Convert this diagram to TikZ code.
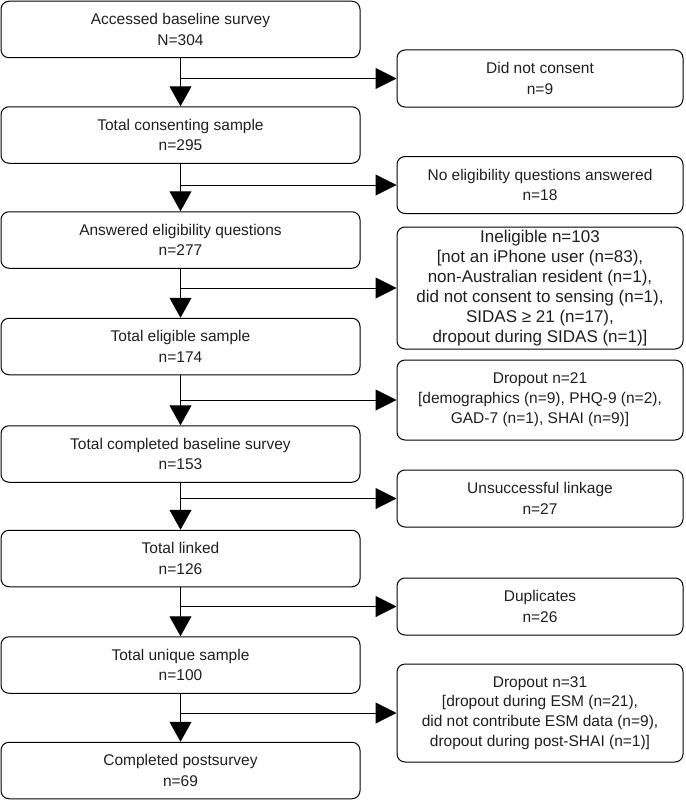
\documentclass[tikz,border=0pt]{standalone}
\usepackage{fontspec}
\setmainfont{Liberation Sans}
\usetikzlibrary{arrows.meta}
\begin{document}
\begin{tikzpicture}[x=1pt,y=-1pt,
  box/.style={draw=black, line width=1pt, rounded corners=8pt, align=center,
    inner sep=0pt, font=\fontsize{15.5}{20.5}\selectfont, text=black!88},
  lbox/.style={box, minimum width=359pt, minimum height=56.5pt},
  rbox/.style={box, minimum width=286pt},
  flow/.style={line width=1pt, -{Triangle[width=22pt,length=20pt]}},
  branch/.style={line width=1pt, -{Triangle[width=21pt,length=21pt]}}]
\useasboundingbox (0,0) rectangle (685,800);

% main column
\node[lbox] (b1) at (180.5,29.5) {Accessed baseline survey\\N=304};
\node[lbox] (b2) at (180.5,135) {Total consenting sample\\n=295};
\node[lbox] (b3) at (180.5,240) {Answered eligibility questions\\n=277};
\node[lbox] (b4) at (180.5,346.5) {Total eligible sample\\n=174};
\node[lbox] (b5) at (180.5,454) {Total completed baseline survey\\n=153};
\node[lbox] (b6) at (180.5,558.5) {Total linked\\n=126};
\node[lbox] (b7) at (180.5,665) {Total unique sample\\n=100};
\node[lbox] (b8) at (180.5,770.5) {Completed postsurvey\\n=69};

% exclusions
\node[rbox, minimum height=57pt] (r1) at (540,78.5) {Did not consent\\n=9};
\node[rbox, minimum height=57pt] (r2) at (540,185) {No eligibility questions answered\\n=18};
\node[rbox, minimum height=122pt, font=\fontsize{17}{20}\selectfont] (r3) at (540,288)
  {Ineligible n=103\\{[}not an iPhone user (n=83),\\non-Australian resident (n=1),\\did not consent to sensing (n=1),\\SIDAS ≥ 21 (n=17),\\dropout during SIDAS (n=1){]}};
\node[rbox, minimum height=80pt, font=\fontsize{15.5}{20}\selectfont] (r4) at (540,400)
  {Dropout n=21\\{[}demographics (n=9), PHQ-9 (n=2),\\GAD-7 (n=1), SHAI (n=9){]}};
\node[rbox, minimum height=57pt] (r5) at (540,498.5) {Unsuccessful linkage\\n=27};
\node[rbox, minimum height=57pt] (r6) at (540,606.5) {Duplicates\\n=26};
\node[rbox, minimum height=98pt, font=\fontsize{15.5}{19.7}\selectfont] (r7) at (540,713)
  {Dropout n=31\\{[}dropout during ESM (n=21),\\did not contribute ESM data (n=9),\\dropout during post-SHAI (n=1){]}};

% vertical flow
\draw[flow] (b1.south) -- (b2.north);
\draw[flow] (b2.south) -- (b3.north);
\draw[flow] (b3.south) -- (b4.north);
\draw[flow] (b4.south) -- (b5.north);
\draw[flow] (b5.south) -- (b6.north);
\draw[flow] (b6.south) -- (b7.north);
\draw[flow] (b7.south) -- (b8.north);

% branches
\coordinate (j1) at (b1.south |- r1.west);
\coordinate (j2) at (b2.south |- r2.west);
\coordinate (j3) at (b3.south |- r3.west);
\coordinate (j4) at (b4.south |- r4.west);
\coordinate (j5) at (b5.south |- r5.west);
\coordinate (j6) at (b6.south |- r6.west);
\coordinate (j7) at (b7.south |- r7.west);
\draw[branch] (j1) -- (r1.west);
\draw[branch] (j2) -- (r2.west);
\draw[branch] (j3) -- (r3.west);
\draw[branch] (j4) -- (r4.west);
\draw[branch] (j5) -- (r5.west);
\draw[branch] (j6) -- (r6.west);
\draw[branch] (j7) -- (r7.west);
\end{tikzpicture}
\end{document}
